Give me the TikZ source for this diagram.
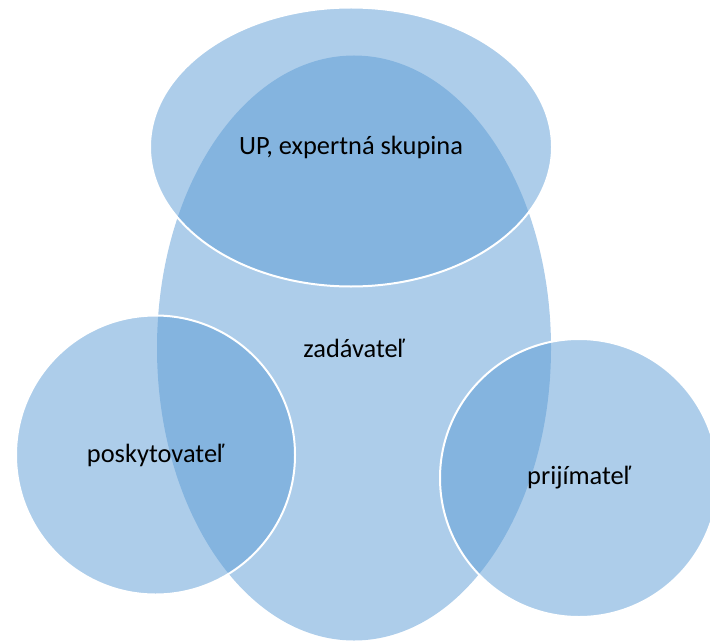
\documentclass[tikz,border=0pt]{standalone}
\usepackage{fontspec}
\setmainfont{Carlito}
\usetikzlibrary{shapes.geometric}

\begin{document}
\begin{tikzpicture}[x=1bp, y=-1bp,
    blob/.style={ellipse, inner sep=0pt, fill={rgb,255:red,91;green,155;blue,213},
        fill opacity=0.5, text opacity=1, font=\fontsize{26.5}{30}\selectfont},
    rim/.style={draw=white, line width=2bp}]

    % the page
    \clip (0,0) rectangle (710,641);

    % the big one in the middle
    \node[blob, minimum width=394bp, minimum height=585bp] (zadavatel) at (354,348) {zadávateľ};

    % these are the three round ones on top
    \node[blob, rim, minimum width=402bp, minimum height=279bp] (up) at (351,147) {UP, expertná skupina};
    \node[blob, rim, minimum width=279bp, minimum height=279bp] (poskytovatel) at (155.5,455) {poskytovateľ};
    \node[blob, rim, minimum width=278bp, minimum height=278bp] (prijimatel) at (579,478) {prijímateľ};

\end{tikzpicture}
\end{document}
